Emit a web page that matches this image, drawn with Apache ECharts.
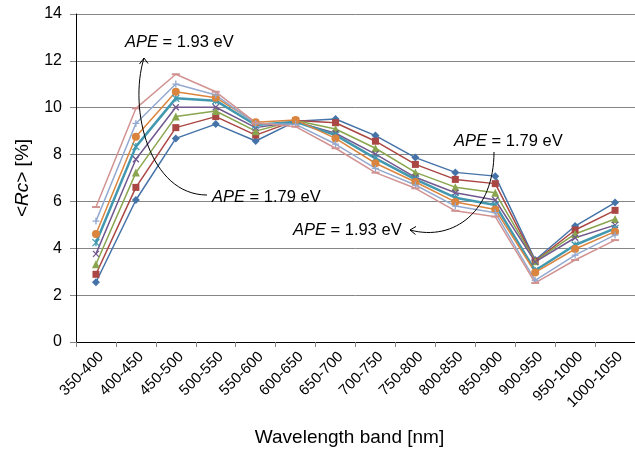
<!DOCTYPE html>
<html>
<head>
<meta charset="utf-8">
<script src="https://cdn.jsdelivr.net/npm/echarts@6/dist/echarts.min.js"></script>
<style>
  html, body { margin: 0; padding: 0; background: #fff; }
  #chart { width: 635px; height: 454px; }
</style>
</head>
<body>
<div id="chart"></div>
<script>
// wavelength bands
const bands = ['350-400', '400-450', '450-500', '500-550', '550-600', '600-650', '650-700',
  '700-750', '750-800', '800-850', '850-900', '900-950', '950-1000', '1000-1050'];

// <Rc> [%] per APE
const ape179 = [2.55, 6.06, 8.69, 9.30, 8.58, 9.42, 9.52, 8.81, 7.87, 7.24, 7.08, 3.50, 4.95, 5.95];
const ape181 = [2.89, 6.60, 9.15, 9.62, 8.83, 9.45, 9.36, 8.57, 7.58, 6.94, 6.76, 3.45, 4.78, 5.62];
const ape183 = [3.32, 7.23, 9.62, 9.86, 9.00, 9.45, 9.09, 8.27, 7.24, 6.61, 6.37, 3.45, 4.61, 5.25];
const ape185 = [3.76, 7.80, 10.02, 10.02, 9.15, 9.40, 8.91, 8.02, 7.03, 6.37, 6.06, 3.42, 4.45, 4.99];
const ape187 = [4.24, 8.34, 10.40, 10.30, 9.26, 9.40, 8.83, 7.84, 6.94, 6.16, 5.85, 3.05, 4.14, 4.85];
const ape189 = [4.61, 8.76, 10.68, 10.43, 9.38, 9.48, 8.69, 7.63, 6.83, 5.98, 5.66, 2.97, 3.97, 4.71];
const ape191 = [5.16, 9.33, 11.01, 10.54, 9.32, 9.29, 8.45, 7.41, 6.70, 5.80, 5.52, 2.63, 3.71, 4.57];
const ape193 = [5.76, 9.97, 11.43, 10.68, 9.36, 9.19, 8.27, 7.23, 6.56, 5.60, 5.35, 2.52, 3.50, 4.35];

const yTicks = { min: 0, max: 14, interval: 2 };

const FONT = 'Liberation Sans, Arial, sans-serif';

// excel-ish markers
const X_MARK = 'path://M0,0L10,10M10,0L0,10';
const STAR_MARK = 'path://M0,0L10,10M10,0L0,10M5,0L5,10';
const PLUS_MARK = 'path://M5,0L5,10M0,5L10,5';

function mkSeries(name, data, color, symbol, size, stroked, width) {
  return {
    name: name,
    type: 'line',
    data: data,
    symbol: symbol,
    symbolSize: size,
    showSymbol: true,
    lineStyle: { color: color, width: width || 1.5 },
    itemStyle: stroked
      ? { color: color, borderColor: color, borderWidth: 1.3 }
      : { color: color, borderWidth: 0 },
    emphasis: { disabled: true },
    z: 3
  };
}

function apeText(x, y, val) {
  return {
    type: 'text',
    x: x,
    y: y,
    z: 10,
    style: {
      text: '{i|APE} = ' + val + ' eV',
      fill: '#000',
      fontSize: 16.5,
      fontFamily: FONT,
      verticalAlign: 'middle',
      rich: {
        i: { fontStyle: 'italic', fontSize: 16.5, fontFamily: FONT, fill: '#000' }
      }
    }
  };
}

const myChart = echarts.init(document.getElementById('chart'));
const opt = {
  animation: false,
  backgroundColor: '#fff',
  grid: { left: 76, right: 0, top: 14, bottom: 112 },
  xAxis: {
    type: 'category',
    data: bands,
    boundaryGap: true,
    name: 'Wavelength band [nm]',
    nameLocation: 'middle',
    nameGap: 86,
    nameTextStyle: { fontSize: 19, color: '#000', fontFamily: FONT, padding: [0, 12, 0, 0] },
    axisLine: { show: true, lineStyle: { color: '#000', width: 1 } },
    axisTick: { show: true, length: 5, interval: 0, lineStyle: { color: '#868686' } },
    axisLabel: {
      interval: 0, rotate: 45, margin: 7, fontSize: 15, color: '#000', fontFamily: FONT,
      verticalAlign: 'top'
    },
    splitLine: { show: false }
  },
  yAxis: {
    type: 'value',
    min: yTicks.min,
    max: yTicks.max,
    interval: yTicks.interval,
    name: '<{i|Rc}> [%]',
    nameLocation: 'middle',
    nameGap: 44,
    nameTextStyle: {
      fontSize: 19, color: '#000', fontFamily: FONT,
      rich: { i: { fontStyle: 'italic', fontSize: 19, color: '#000', fontFamily: FONT } }
    },
    axisLine: { show: true, lineStyle: { color: '#000', width: 1 } },
    axisTick: { show: true, length: 6, lineStyle: { color: '#868686' } },
    axisLabel: { margin: 14, fontSize: 16, color: '#000', fontFamily: FONT },
    splitLine: { show: true, lineStyle: { color: '#868686', width: 1 } }
  },
  series: [
    mkSeries('1.79 eV', ape179, '#4572A7', 'diamond', 8, false),
    mkSeries('1.81 eV', ape181, '#AA4643', 'rect', 7, false),
    mkSeries('1.83 eV', ape183, '#89A54E', 'triangle', 8, false),
    mkSeries('1.85 eV', ape185, '#71588F', X_MARK, 6, true),
    mkSeries('1.87 eV', ape187, '#4198AF', STAR_MARK, 7, true, 2.5),
    mkSeries('1.89 eV', ape189, '#DB843D', 'circle', 8, false),
    mkSeries('1.91 eV', ape191, '#93A9CF', PLUS_MARK, 7, true),
    mkSeries('1.93 eV', ape193, '#D19392', 'rect', [8, 2], false)
  ],
  graphic: [
    apeText(125, 42, '1.93'),
    apeText(212, 197, '1.79'),
    apeText(454, 141, '1.79'),
    apeText(293, 230, '1.93'),
    // curved arrows
    {
      type: 'bezierCurve', z: 10,
      shape: { x1: 207, y1: 195, cpx1: 150, cpy1: 195, cpx2: 128, cpy2: 110, x2: 144, y2: 58 },
      style: { stroke: '#000', fill: null, lineWidth: 1 }
    },
    {
      type: 'polyline', z: 10,
      shape: { points: [[139.5, 64], [144, 58], [148, 63.5]] },
      style: { stroke: '#000', fill: null, lineWidth: 1 }
    },
    {
      type: 'bezierCurve', z: 10,
      shape: { x1: 494, y1: 152, cpx1: 494, cpy1: 210, cpx2: 455, cpy2: 242, x2: 410, y2: 230 },
      style: { stroke: '#000', fill: null, lineWidth: 1 }
    },
    {
      type: 'polyline', z: 10,
      shape: { points: [[416, 226.5], [410, 230], [415.5, 234.5]] },
      style: { stroke: '#000', fill: null, lineWidth: 1 }
    }
  ]
};
myChart.setOption(opt);
</script>
</body>
</html>
